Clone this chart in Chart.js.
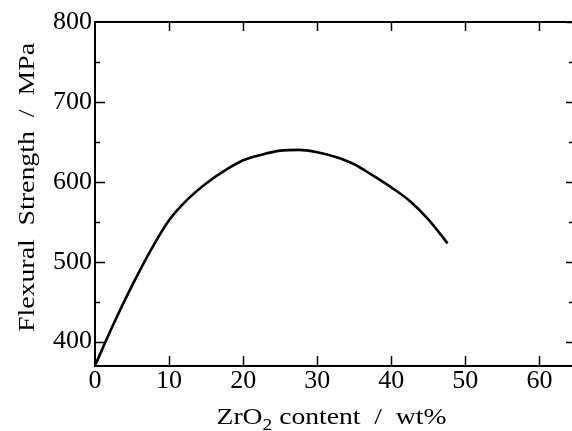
<!DOCTYPE html>
<html>
<head>
<meta charset="utf-8">
<script src="https://cdn.jsdelivr.net/npm/chart.js@4/dist/chart.umd.min.js"></script>
<style>
html,body{margin:0;padding:0;background:#fff;}
#wrap{width:572px;height:431px;}
</style>
</head>
<body>
<div id="wrap"><canvas id="c" width="572" height="431"></canvas></div>
<script>
// ---- data ----
const zro2Content = [0, 2.5, 5, 7.5, 10, 12.5, 15, 17.5, 20, 22.5, 25, 27.5, 30, 32.5, 35, 37.5, 40, 42.5, 45, 47.6];
const flexuralStrength = [370, 422, 470, 514, 552, 578, 598, 614, 627, 634, 639, 640, 637, 631, 622, 608, 593, 576, 553, 523];
const yMajorTicks = [400, 500, 600, 700, 800];
const yMinorTicks = [450, 550, 650, 750];
const xMajorTicks = [0, 10, 20, 30, 40, 50, 60];
const xTitleParts = ['ZrO', '2', ' content  /  wt%'];
const yTitle = 'Flexural  Strength  /  MPa';

const SERIF = 'Liberation Serif, Tinos, Times New Roman, Times, Nimbus Roman, Nimbus Roman No9 L, FreeSerif, serif';

const framePlugin = {
  id: 'frame',
  afterDraw(chart) {
    const ctx = chart.ctx;
    const a = chart.chartArea;
    const xs = chart.scales.x, ys = chart.scales.y;
    ctx.save();
    ctx.strokeStyle = '#000';
    ctx.lineWidth = 2;
    ctx.beginPath();
    ctx.moveTo(a.left, a.top); ctx.lineTo(a.right, a.top);
    ctx.moveTo(a.left, a.top - 1); ctx.lineTo(a.left, a.bottom + 1);
    ctx.moveTo(a.left, a.bottom); ctx.lineTo(a.right, a.bottom);
    ctx.stroke();
    ctx.lineWidth = 1.5;
    ctx.beginPath();
    xMajorTicks.forEach(v => {
      if (v === 0) return;
      const px = Math.round(xs.getPixelForValue(v)) + 0.5;
      ctx.moveTo(px, a.bottom); ctx.lineTo(px, a.bottom - 10);
      ctx.moveTo(px, a.top); ctx.lineTo(px, a.top + 9);
    });
    yMajorTicks.forEach(v => {
      const py = Math.round(ys.getPixelForValue(v)) + 0.5;
      if (v !== 800) { ctx.moveTo(a.left, py); ctx.lineTo(a.left + 10, py); }
      ctx.moveTo(a.right, py); ctx.lineTo(a.right - 6, py);
    });
    yMinorTicks.forEach(v => {
      const py = Math.round(ys.getPixelForValue(v)) + 0.5;
      ctx.moveTo(a.left, py); ctx.lineTo(a.left + 5, py);
      ctx.moveTo(a.right, py); ctx.lineTo(a.right - 3, py);
    });
    ctx.stroke();

    // axis titles
    ctx.fillStyle = '#000';
    ctx.textBaseline = 'alphabetic';
    const fMain = '24px ' + SERIF, fSub = '17px ' + SERIF;
    ctx.font = fMain; const w0 = ctx.measureText(xTitleParts[0]).width;
    ctx.font = fSub; const w1 = ctx.measureText(xTitleParts[1]).width;
    ctx.font = fMain; const w2 = ctx.measureText(xTitleParts[2]).width;
    const sx = 230 / (w0 + w1 + w2);
    const total = (w0 + w1 + w2) * sx;
    const cx = 331.5, base = 424;
    ctx.save();
    ctx.translate(cx - total / 2, base);
    ctx.scale(sx, 1);
    ctx.textAlign = 'left';
    ctx.font = fMain; ctx.fillText(xTitleParts[0], 0, 0);
    ctx.font = fSub; ctx.fillText(xTitleParts[1], w0, 6);
    ctx.font = fMain; ctx.fillText(xTitleParts[2], w0 + w1, 0);
    ctx.restore();
    // y title
    ctx.save();
    ctx.translate(33.5, 187.5);
    ctx.rotate(-Math.PI / 2);
    ctx.font = '24px ' + SERIF;
    ctx.textAlign = 'center';
    const wy = ctx.measureText(yTitle).width;
    ctx.scale(289 / wy, 1);
    ctx.fillText(yTitle, 0, 0);
    ctx.restore();
    ctx.restore();
  }
};

new Chart(document.getElementById('c'), {
  type: 'line',
  data: {
    datasets: [{
      data: zro2Content.map((x, i) => ({ x: x, y: flexuralStrength[i] })),
      borderColor: '#000',
      borderWidth: 2.6,
      pointRadius: 0,
      fill: false,
      cubicInterpolationMode: 'monotone'
    }]
  },
  options: {
    responsive: false,
    animation: false,
    devicePixelRatio: 1,
    layout: { padding: { top: 22, right: 0, left: 0, bottom: 0 } },
    plugins: { legend: { display: false }, tooltip: { enabled: false } },
    scales: {
      x: {
        type: 'linear', min: 0, max: 64.4,
        afterBuildTicks: s => { s.ticks = xMajorTicks.map(v => ({ value: v })); },
        afterFit: s => { s.height = 65; },
        grid: { display: false, drawTicks: false },
        border: { display: false },
        ticks: { color: '#000', font: { family: SERIF, size: 26 }, padding: 0, maxRotation: 0, autoSkip: false }
      },
      y: {
        type: 'linear', min: 369.5, max: 800,
        afterBuildTicks: s => { s.ticks = yMajorTicks.map(v => ({ value: v })); },
        afterFit: s => { s.width = 95; },
        grid: { display: false, drawTicks: false },
        border: { display: false },
        ticks: { color: '#000', font: { family: SERIF, size: 26 }, padding: 3 }
      }
    }
  },
  plugins: [framePlugin]
});
</script>
</body>
</html>
